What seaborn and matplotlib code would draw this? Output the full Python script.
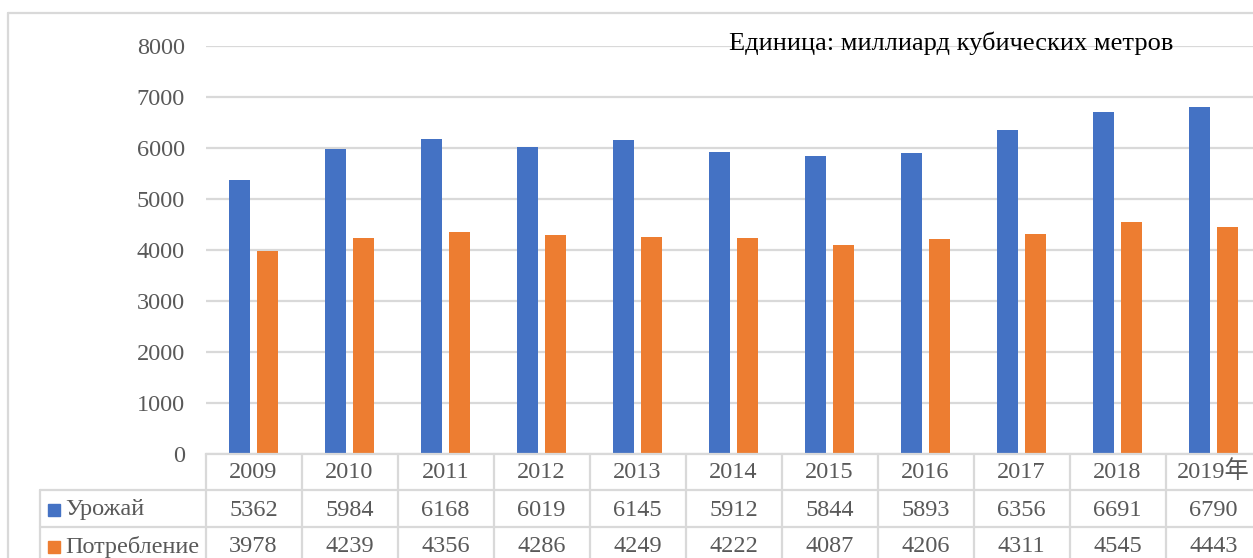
import matplotlib
matplotlib.use("Agg")
import matplotlib.pyplot as plt
import matplotlib.transforms as mtransforms
from matplotlib.lines import Line2D
from matplotlib.patches import Rectangle
import seaborn as sns
import pandas as pd

# ----------------------------
# Data
# ----------------------------
YEARS = ['2009', '2010', '2011', '2012', '2013', '2014',
         '2015', '2016', '2017', '2018', '2019年']
HARVEST = [5362, 5984, 6168, 6019, 6145, 5912, 5844, 5893, 6356, 6691, 6790]
CONSUMPTION = [3978, 4239, 4356, 4286, 4249, 4222, 4087, 4206, 4311, 4545, 4443]
SERIES = ['Урожай', 'Потребление']
COLORS = ['#4472C4', '#ED7D31']
Y_TICKS = [0, 1000, 2000, 3000, 4000, 5000, 6000, 7000, 8000]
UNIT_TEXT = "Единица: миллиард кубических метров"

GRID = '#D9D9D9'
TEXT_GREY = '#595959'
FS = 17.5

sns.set_style('white')
plt.rcParams['font.family'] = ['Liberation Serif', 'Noto Sans CJK SC', 'DejaVu Sans']

W, H = 1253, 558
fig = plt.figure(figsize=(W / 100, H / 100), dpi=100)

# axes placed in pixel terms (right side runs off the image like the source)
x0, y0_px, ax_w, ax_h = 205.5, 453.7, 1056, 408
ax = fig.add_axes([x0 / W, (H - y0_px) / H, ax_w / W, ax_h / H])

df = pd.DataFrame({
    'year': YEARS * 2,
    'value': HARVEST + CONSUMPTION,
    'series': [SERIES[0]] * len(YEARS) + [SERIES[1]] * len(YEARS),
})

sns.barplot(
    data=df, x='year', y='value', hue='series', order=YEARS,
    hue_order=SERIES, palette=COLORS, width=0.59, gap=0.25,
    legend=False, ax=ax, saturation=1, linewidth=0,
)

ax.set_xlim(-0.5, len(YEARS) - 0.5)
ax.set_ylim(0, 8000)
ax.set_yticks(Y_TICKS)
ax.set_yticklabels([str(t) for t in Y_TICKS], fontsize=FS, color=TEXT_GREY)
ax.tick_params(axis='y', length=0, pad=15)
ax.tick_params(axis='x', length=0, labelbottom=False)
ax.set_xlabel('')
ax.set_ylabel('')
ax.yaxis.grid(True, color=GRID, linewidth=1.6)
ax.set_axisbelow(True)
for side in ['top', 'right', 'left']:
    ax.spines[side].set_visible(False)
ax.spines['bottom'].set_color(GRID)
ax.spines['bottom'].set_linewidth(1.6)

# unit note in the top right
fig.text(1173 / W, 1 - 50 / H, UNIT_TEXT, ha='right', va='baseline',
         fontsize=19, color='black')

# ----------------------------
# Data table under the axis
# ----------------------------
def ay(px):
    # pixel row -> axes fraction
    return (y0_px - px) / ax_h

tr_data = mtransforms.blended_transform_factory(ax.transData, ax.transAxes)
tr_fig = mtransforms.blended_transform_factory(fig.transFigure, ax.transAxes)
line_kw = dict(color=GRID, linewidth=1.6, clip_on=False)

# vertical cell borders
for i in range(len(YEARS) + 1):
    ax.add_line(Line2D([i - 0.5, i - 0.5], [0, ay(H + 2)], transform=tr_data, **line_kw))
# horizontal row borders
for py in [490, 527]:
    ax.add_line(Line2D([40 / W, 1], [ay(py), ay(py)], transform=tr_fig, **line_kw))
# left border of the series-name column
ax.add_line(Line2D([40 / W, 40 / W], [ay(490), ay(H + 2)], transform=tr_fig, **line_kw))

row_y = [ay(472), ay(510), ay(547)]
for i, yr in enumerate(YEARS):
    ax.text(i, row_y[0], yr, transform=tr_data, ha='center', va='center',
            fontsize=FS, color=TEXT_GREY)
    ax.text(i, row_y[1], str(HARVEST[i]), transform=tr_data, ha='center',
            va='center', fontsize=FS, color=TEXT_GREY)
    ax.text(i, row_y[2], str(CONSUMPTION[i]), transform=tr_data, ha='center',
            va='center', fontsize=FS, color=TEXT_GREY)

for name, color, py in zip(SERIES, COLORS, [510, 547]):
    fig.add_artist(Rectangle((48 / W, 1 - (py + 6) / H), 12 / W, 12 / H,
                             transform=fig.transFigure, color=color))
    fig.text(65 / W, 1 - py / H, name, ha='left', va='center',
             fontsize=FS, color=TEXT_GREY)

# outer chart frame (top and left edges visible)
fig.add_artist(Line2D([7.5 / W, 1], [1 - 12.5 / H] * 2, transform=fig.transFigure,
                      color=GRID, linewidth=1.6))
fig.add_artist(Line2D([7.5 / W, 7.5 / W], [0, 1 - 12.5 / H], transform=fig.transFigure,
                      color=GRID, linewidth=1.6))

fig.savefig('out.png', dpi=100)
